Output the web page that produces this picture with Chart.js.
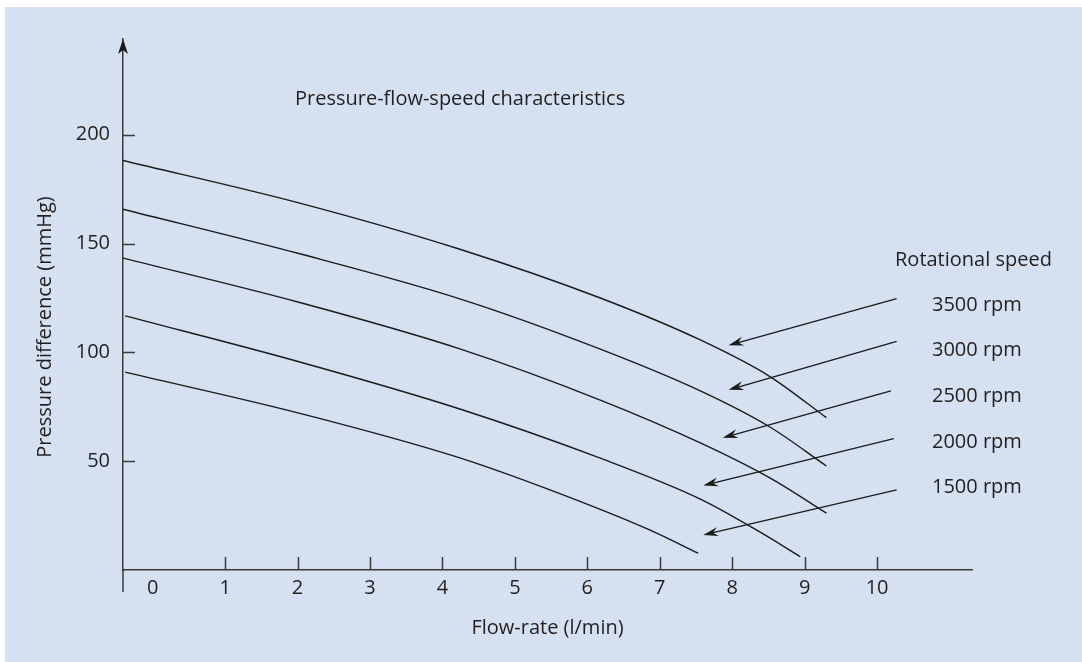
<!DOCTYPE html>
<html>
<head>
<meta charset="utf-8">
<script src="https://cdn.jsdelivr.net/npm/chart.js@4.4.1/dist/chart.umd.min.js"></script>
<style>
  html, body { margin: 0; padding: 0; background: #fff; }
  canvas { display: block; }
</style>
</head>
<body>
<canvas id="pumpChart" width="1082" height="662"></canvas>
<script>
// tick labels
const flowTicks = [0, 1, 2, 3, 4, 5, 6, 7, 8, 9, 10];
const pressureTicks = [50, 100, 150, 200];

// rotational speeds (top curve first)
const speeds = ['3500 rpm', '3000 rpm', '2500 rpm', '2000 rpm', '1500 rpm'];

// curves: flow (l/min) and pressure (mmHg)
const flow3500 = [-0.41, 2.03, 4.24, 6.17, 7.56, 8.52, 9.30];
const pres3500 = [188.2, 168.6, 147.4, 125.1, 105.7, 88.9, 70.0];
const flow3000 = [-0.41, 2.03, 4.24, 6.17, 7.56, 8.52, 9.30];
const pres3000 = [165.8, 145.3, 124.6, 101.6, 82.3, 65.7, 47.8];
const flow2500 = [-0.41, 2.03, 4.24, 6.17, 7.56, 8.52, 9.30];
const pres2500 = [143.3, 122.9, 101.6, 78.2, 58.4, 42.3, 26.1];
const flow2000 = [-0.38, 2.03, 4.24, 6.17, 7.56, 8.38, 8.94];
const pres2000 = [116.8, 95.6, 74.0, 51.5, 32.6, 17.5, 6.1];
const flow1500 = [-0.38, 2.03, 4.24, 6.17, 6.86, 7.53];
const pres1500 = [90.9, 72.0, 51.5, 28.0, 18.4, 7.7];

// pointer arrows from the speed labels to the curves
const arrowTailFlow = [10.27, 10.27, 10.19, 10.23, 10.27];
const arrowTailPres = [124.7, 105.0, 82.3, 60.4, 36.8];
const arrowTipFlow = [7.95, 7.95, 7.87, 7.60, 7.60];
const arrowTipPres = [103.3, 82.8, 60.8, 38.8, 16.1];

const ink = '#231f20';
const axisInk = '#3a3a3a';
const font = '"Open Sans", "Noto Sans", sans-serif';

const curves = [
  [flow3500, pres3500],
  [flow3000, pres3000],
  [flow2500, pres2500],
  [flow2000, pres2000],
  [flow1500, pres1500]
];

const datasets = curves.map((c, i) => ({
  label: speeds[i],
  data: c[0].map((x, j) => ({x: x, y: c[1][j]})),
  borderColor: '#1a1a1a',
  borderWidth: 1.4,
  pointRadius: 0,
  showLine: true,
  fill: false,
  cubicInterpolationMode: 'monotone'
}));

function dart(ctx, tipX, tipY, fromX, fromY) {
  const a = Math.atan2(tipY - fromY, tipX - fromX);
  const len = 15, half = 4.5, notch = 10;
  const bx = tipX - Math.cos(a) * len, by = tipY - Math.sin(a) * len;
  const nx = tipX - Math.cos(a) * notch, ny = tipY - Math.sin(a) * notch;
  const px = -Math.sin(a) * half, py = Math.cos(a) * half;
  ctx.beginPath();
  ctx.moveTo(tipX, tipY);
  ctx.lineTo(bx + px, by + py);
  ctx.lineTo(nx, ny);
  ctx.lineTo(bx - px, by - py);
  ctx.closePath();
  ctx.fill();
  return [nx, ny];
}

const decorations = {
  id: 'decorations',
  beforeDraw(chart) {
    const ctx = chart.ctx;
    ctx.save();
    ctx.fillStyle = '#ffffff';
    ctx.fillRect(0, 0, chart.width, chart.height);
    ctx.fillStyle = '#d5e0f1';
    ctx.fillRect(5, 7, chart.width - 5, chart.height - 7);
    ctx.restore();
  },
  afterDraw(chart) {
    const ctx = chart.ctx;
    const xs = chart.scales.x, ys = chart.scales.y;
    const area = chart.chartArea;
    ctx.save();
    ctx.strokeStyle = axisInk;
    ctx.fillStyle = axisInk;
    ctx.lineWidth = 1.5;

    // y axis runs a little below the flow axis, arrow on top
    ctx.beginPath();
    ctx.moveTo(area.left, area.bottom);
    ctx.lineTo(area.left, area.bottom + 22);
    ctx.stroke();
    ctx.fillStyle = '#1a1a1a';
    ctx.beginPath();
    ctx.moveTo(area.left, area.top);
    ctx.lineTo(area.left + 5, area.top + 15);
    ctx.lineTo(area.left, area.top + 11);
    ctx.lineTo(area.left - 5, area.top + 15);
    ctx.closePath();
    ctx.fill();

    // tick marks pointing into the plot
    flowTicks.forEach(v => {
      if (v === 0) return;
      const x = Math.round(xs.getPixelForValue(v)) + 0.5;
      ctx.beginPath();
      ctx.moveTo(x, area.bottom);
      ctx.lineTo(x, area.bottom - 13);
      ctx.stroke();
    });
    pressureTicks.forEach(v => {
      const y = Math.round(ys.getPixelForValue(v)) + 0.5;
      ctx.beginPath();
      ctx.moveTo(area.left, y);
      ctx.lineTo(area.left + 12, y);
      ctx.stroke();
    });

    // arrows
    ctx.strokeStyle = '#1a1a1a';
    ctx.fillStyle = '#1a1a1a';
    ctx.lineWidth = 1.3;
    speeds.forEach((s, i) => {
      const tx = xs.getPixelForValue(arrowTailFlow[i]);
      const ty = ys.getPixelForValue(arrowTailPres[i]);
      const hx = xs.getPixelForValue(arrowTipFlow[i]);
      const hy = ys.getPixelForValue(arrowTipPres[i]);
      const n = dart(ctx, hx, hy, tx, ty);
      ctx.beginPath();
      ctx.moveTo(tx, ty);
      ctx.lineTo(n[0], n[1]);
      ctx.stroke();
    });

    // texts
    ctx.fillStyle = ink;
    ctx.font = '20px ' + font;
    ctx.textBaseline = 'middle';
    ctx.textAlign = 'left';
    ctx.fillText('Pressure-flow-speed characteristics', 295, 99);
    ctx.fillText('Rotational speed', 895, 260);
    speeds.forEach((s, i) => {
      ctx.fillText(s, 932, 305 + i * 45.6);
    });

    ctx.translate(45, 327);
    ctx.rotate(-Math.PI / 2);
    ctx.textAlign = 'center';
    ctx.fillText('Pressure difference (mmHg)', 0, 0);
    ctx.restore();
  }
};

const pumpChart = new Chart(document.getElementById('pumpChart').getContext('2d'), {
  type: 'scatter',
  data: { datasets: datasets },
  plugins: [decorations],
  options: {
    responsive: false,
    animation: false,
    devicePixelRatio: 1,
    layout: { padding: { left: 5, top: 39, right: 110, bottom: 22 } },
    plugins: {
      legend: { display: false },
      tooltip: { enabled: false }
    },
    scales: {
      x: {
        type: 'linear',
        min: -0.41,
        max: 11.31,
        afterBuildTicks: s => { s.ticks = flowTicks.map(v => ({value: v})); },
        afterFit: s => { s.height = 70; },
        grid: { drawOnChartArea: false, drawTicks: false },
        border: { color: axisInk, width: 1.5 },
        ticks: {
          color: ink,
          font: { family: font, size: 20 },
          padding: 6,
          maxRotation: 0,
          autoSkip: false
        },
        title: {
          display: true,
          text: 'Flow-rate (l/min)',
          color: ink,
          font: { family: font, size: 20 },
          padding: { top: 8, bottom: 0 }
        }
      },
      y: {
        type: 'linear',
        min: 0,
        max: 244,
        afterBuildTicks: s => { s.ticks = pressureTicks.map(v => ({value: v})); },
        afterFit: s => { s.width = 118; },
        grid: { drawOnChartArea: false, drawTicks: false },
        border: { color: axisInk, width: 1.5 },
        ticks: {
          color: ink,
          font: { family: font, size: 20 },
          padding: 13
        }
      }
    }
  }
});
</script>
</body>
</html>
